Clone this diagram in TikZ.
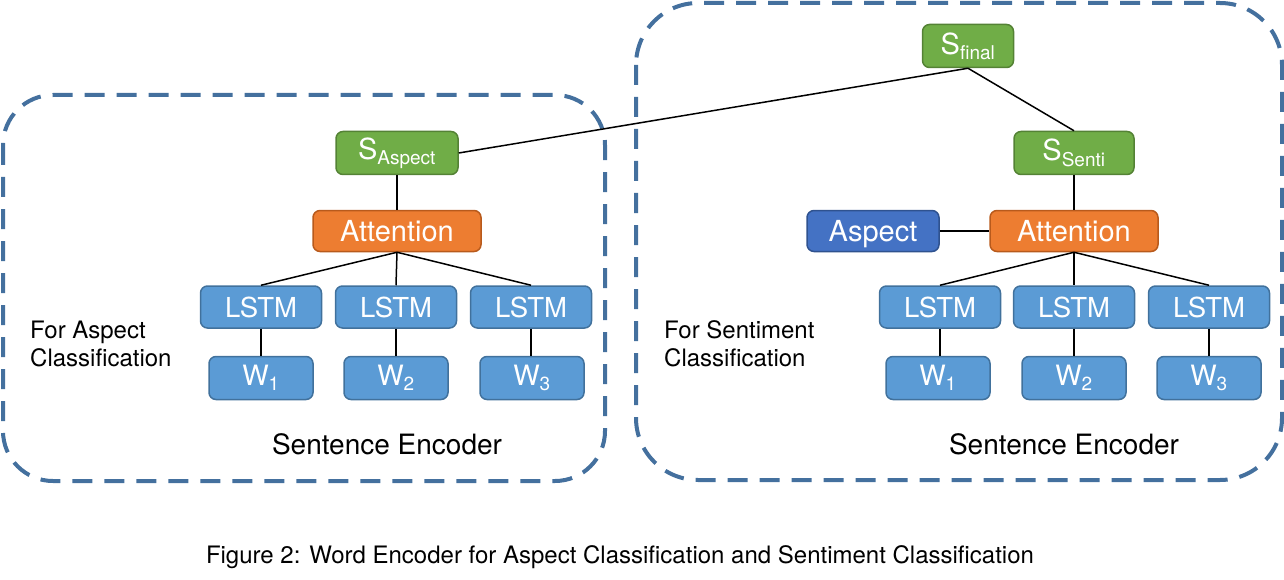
\documentclass[tikz,border=0pt]{standalone}
\usepackage{fontspec}
\setmainfont{TeX Gyre Heros}
\definecolor{gfill}{HTML}{70AD47}
\definecolor{gline}{HTML}{548235}
\definecolor{ofill}{HTML}{ED7D31}
\definecolor{oline}{HTML}{B85A1C}
\definecolor{bfill}{HTML}{5B9BD5}
\definecolor{bline}{HTML}{41719C}
\definecolor{dfill}{HTML}{4472C4}
\definecolor{dline}{HTML}{2F528F}
\definecolor{dash}{HTML}{44709E}
\begin{document}
\begin{tikzpicture}[x=1pt,y=-1pt,
  box/.style={draw, line width=1.5pt, rounded corners=7pt, inner sep=0pt, text=white, align=center},
  gbox/.style={box, fill=gfill, draw=gline, minimum height=43pt, font=\fontsize{29}{30}\selectfont},
  obox/.style={box, fill=ofill, draw=oline, minimum height=41pt, minimum width=168pt, text depth=0pt, font=\fontsize{29}{30}\selectfont},
  lbox/.style={box, fill=bfill, draw=bline, minimum height=42pt, minimum width=121pt, text depth=0pt, font=\fontsize{27.5}{30}\selectfont},
  wbox/.style={box, fill=bfill, draw=bline, minimum height=43pt, minimum width=104pt, font=\fontsize{28}{30}\selectfont},
  abox/.style={box, fill=dfill, draw=dline, minimum height=41pt, minimum width=132pt, text depth=0pt, font=\fontsize{29}{30}\selectfont},
  enc/.style={draw=dash, line width=4pt, dash pattern=on 20pt off 12pt},
  conn/.style={draw=black, line width=1.5pt},
  lbl/.style={font=\fontsize{24}{28}\selectfont, align=left, anchor=west, inner sep=0pt},
  enclbl/.style={font=\fontsize{28}{30}\selectfont, inner sep=0pt}
]
\useasboundingbox (0,0) rectangle (1284,580);
% encoder frames
\draw[enc, rounded corners=50pt] (3,95) rectangle (605,481);
\draw[enc, rounded corners=62pt] (636,3) rectangle (1282,480);
% left nodes
\node[gbox, minimum width=122pt] (sa) at (397,153) {S\textsubscript{\fontsize{19}{20}\selectfont Aspect}};
\node[obox] (att1) at (397,231) {Attention};
\node[lbox] (l11) at (261,307) {LSTM};
\node[lbox] (l12) at (396,307) {LSTM};
\node[lbox] (l13) at (531,307) {LSTM};
\node[wbox] (w11) at (261,378) {W\textsubscript{\fontsize{19}{20}\selectfont 1}};
\node[wbox] (w12) at (396,378) {W\textsubscript{\fontsize{19}{20}\selectfont 2}};
\node[wbox] (w13) at (532,378) {W\textsubscript{\fontsize{19}{20}\selectfont 3}};
% right nodes
\node[gbox, minimum width=91pt] (sf) at (968,46) {S\textsubscript{\fontsize{19}{20}\selectfont final}};
\node[gbox, minimum width=120pt] (ss) at (1074,153) {S\textsubscript{\fontsize{19}{20}\selectfont Senti}};
\node[abox] (asp) at (873,231) {Aspect};
\node[obox] (att2) at (1074,231) {Attention};
\node[lbox] (l21) at (940,307) {LSTM};
\node[lbox] (l22) at (1074,307) {LSTM};
\node[lbox] (l23) at (1209,307) {LSTM};
\node[wbox] (w21) at (938,378) {W\textsubscript{\fontsize{19}{20}\selectfont 1}};
\node[wbox] (w22) at (1074,378) {W\textsubscript{\fontsize{19}{20}\selectfont 2}};
\node[wbox] (w23) at (1209,378) {W\textsubscript{\fontsize{19}{20}\selectfont 3}};
% connectors
\draw[conn] (sa.east) -- (sf.south);
\draw[conn] (sf.south) -- (ss.north);
\draw[conn] (sa.south) -- (att1.north);
\draw[conn] (ss.south) -- (att2.north);
\draw[conn] (asp.east) -- (att2.west);
\foreach \a/\b in {att1/l11,att1/l12,att1/l13,att2/l21,att2/l22,att2/l23}
  \draw[conn] (\a.south) -- (\b.north);
\foreach \a/\b in {l11/w11,l12/w12,l13/w13,l21/w21,l22/w22,l23/w23}
  \draw[conn] (\a.south) -- (\a.south |- \b.north);
% labels
\node[lbl] (fa) at (30,344) {For Aspect\\Classification};
\node[lbl] (fs) at (664,344) {For Sentiment\\Classification};
\node[enclbl] (se1) at (387,444) {Sentence Encoder};
\node[enclbl] (se2) at (1064,444) {Sentence Encoder};
\node[font=\fontsize{24}{28}\selectfont, inner sep=0pt] (cap) at (620,557) {Figure 2: Word Encoder for Aspect Classification and Sentiment Classification};
\end{tikzpicture}
\end{document}
